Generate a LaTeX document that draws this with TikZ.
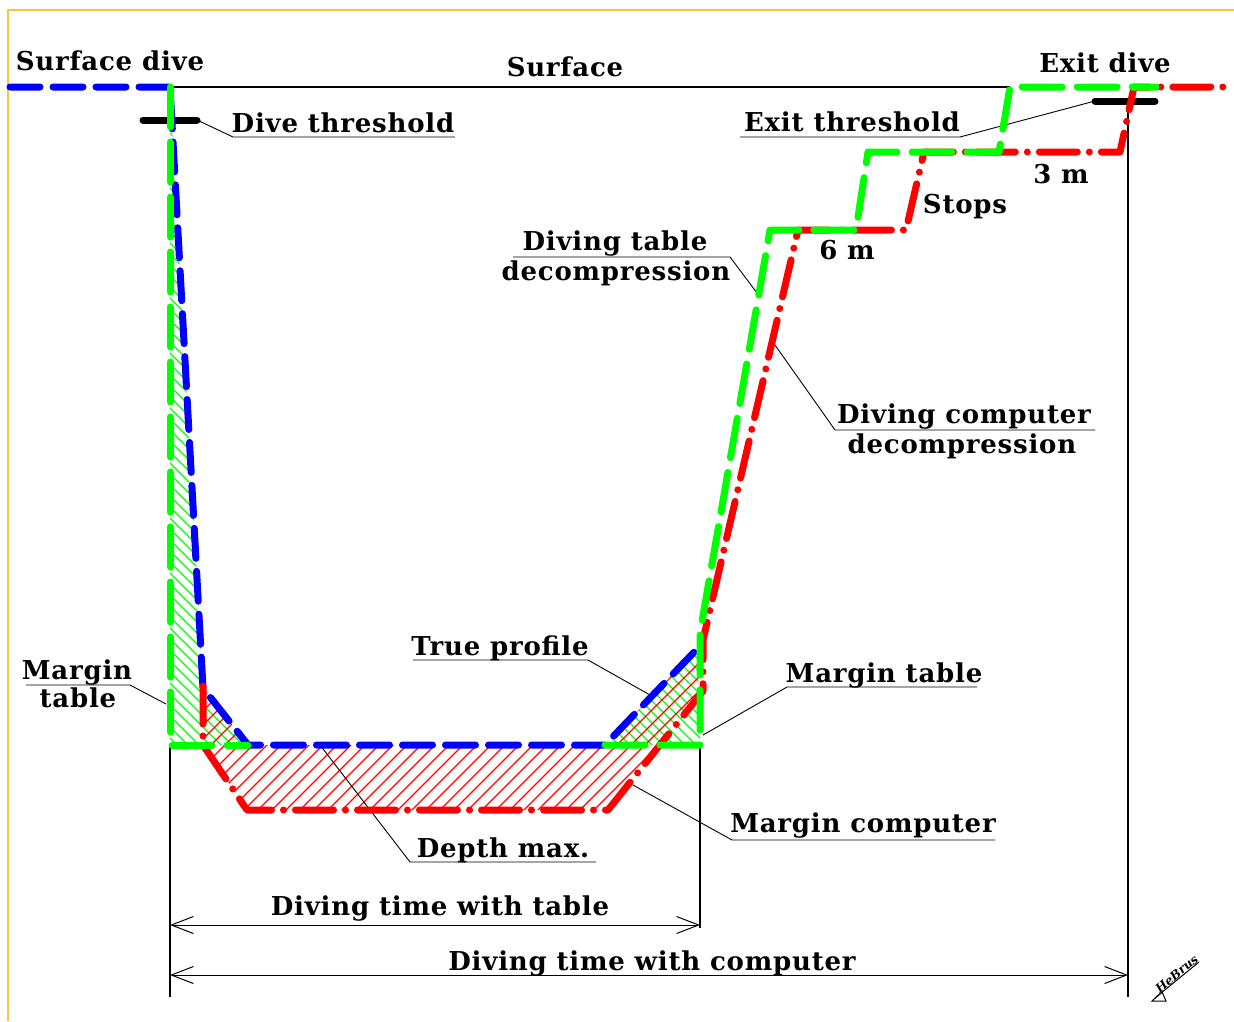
\documentclass[tikz,border=0pt]{standalone}
\usepackage{fontspec}
\newfontfamily\lblf{DejaVu Serif}[LetterSpace=3]
\newfontfamily\sigf{DejaVu Serif}
\usetikzlibrary{arrows.meta}
\definecolor{gr}{RGB}{0,255,0}
\definecolor{bl}{RGB}{0,0,255}
\definecolor{rd}{RGB}{255,0,0}
\definecolor{frame}{RGB}{248,196,64}
\tikzset{
  tbl/.style={draw=gr, line width=7pt, line cap=round, line join=round, dash pattern=on 40pt off 15pt},
  tru/.style={draw=bl, line width=7pt, line cap=round, line join=round, dash pattern=on 30pt off 13pt},
  cmp/.style={draw=rd, line width=7pt, line cap=round, line join=round, dash pattern=on 38pt off 12pt on 0pt off 12pt},
  barline/.style={draw=black, line width=7pt, line cap=round},
  thinline/.style={draw=black, line width=1.2pt},
  lead/.style={draw=black, line width=0.9pt},
  lbl/.style={font=\lblf\bfseries\fontsize{26}{30}\selectfont, inner sep=0pt, anchor=base},
  dimarr/.style={draw=black, line width=1pt, {Straight Barb[length=22pt,width=17pt]}-{Straight Barb[length=22pt,width=17pt]}},
}
\begin{document}
\begin{tikzpicture}[x=1pt,y=-1pt]
\useasboundingbox (0,0) rectangle (1234,1021);
% frame
\draw[frame, line width=1.5pt] (8,1021) -- (8,10) -- (1234,10);

% hatching
\begin{scope}
  \clip (170,87) -- (203,688) -- (248,745) -- (170,745) -- cycle;
  \foreach \q in {-180,-169,...,600} \draw[gr, line width=1.1pt] (0,\q) -- (900,\q+900);
\end{scope}
\begin{scope}
  \clip (605,745) -- (698,648) -- (700,745) -- cycle;
  \foreach \q in {-600,-589,...,200} \draw[gr, line width=1.1pt] (0,\q) -- (1000,\q+1000);
\end{scope}
\begin{scope}
  \clip (203,688) -- (248,745) -- (605,745) -- (698,648) -- (703,640) -- (703,691) -- (608,810) -- (247,810) -- (203,745) -- cycle;
  \foreach \q in {830,844,...,1530} \draw[rd, line width=1.1pt] (\q-1000,1000) -- (\q,0);
\end{scope}

% coordinates
\coordinate (s0) at (10,87);
\coordinate (s1) at (170,87);
\coordinate (s2) at (1010,87);
\coordinate (dbA) at (143,120);
\coordinate (dbB) at (197,120);
\coordinate (ebA) at (1095,101);
\coordinate (ebB) at (1155,101);
\coordinate (bt) at (170,745);
\coordinate (bm) at (700,745);
\coordinate (be) at (1128,101);

% thin lines
\draw[thinline] (s1) -- (s2);
\draw[thinline] (bt) -- (170,997);
\draw[thinline] (bm) -- (700,928);
\draw[thinline] (be) -- (1128,997);

% thresholds
\draw[barline] (dbA) -- (dbB);
\draw[barline] (ebA) -- (ebB);

% labels
\node[lbl] (sdive) at (110,70) {Surface dive};
\node[lbl] (surf) at (565,76) {Surface};
\node[lbl] (edive) at (1105,72) {Exit dive};
\node[lbl] (dthr) at (343,132) {Dive threshold};
\node[lbl] (ethr) at (852,131) {Exit threshold};
\node[lbl] (m3) at (1061,183) {3 m};
\node[lbl] (stops) at (965,213) {Stops};
\node[lbl] (m6) at (847,259) {6 m};
\node[lbl] (dt1) at (615,250) {Diving table};
\node[lbl] (dt2) at (616,280) {decompression};
\node[lbl] (dc1) at (964,423) {Diving computer};
\node[lbl] (dc2) at (962,453) {decompression};
\node[lbl] (tp) at (500,655) {True profile};
\node[lbl] (mtr) at (884,682) {Margin table};
\node[lbl] (mtl1) at (77,679) {Margin};
\node[lbl] (mtl2) at (78,707) {table};
\node[lbl] (mc) at (863,832) {Margin computer};
\node[lbl] (dm) at (503,857) {Depth max.};
\node[lbl] (tt) at (440,915) {Diving time with table};
\node[lbl] (tc) at (652,970) {Diving time with computer};

% leaders
\draw[lead] (dbB) -- (233,137) -- (455,137);
\draw[lead] (ebA) -- (960,137) -- (740,137);
\draw[lead] (513,257) -- (730,257) -- (757,293);
\draw[lead] (1095,430) -- (835,430) -- (775,345);
\draw[lead] (413,660) -- (588,660) -- (650,695);
\draw[lead] (977,687) -- (787,687) -- (703,735);
\draw[lead] (995,840) -- (732,840) -- (633,785);
\draw[lead] (596,862) -- (410,862) -- (320,745);
\draw[lead] (26,685) -- (130,685) -- (166,704);

% dimension arrows
\coordinate (ta) at (170,925);
\coordinate (tb) at (700,925);
\coordinate (ca) at (170,975);
\coordinate (cb) at (1128,975);
\draw[dimarr] (ta) -- (tb);
\draw[dimarr] (ca) -- (cb);

% profiles
\draw[tru] (s0) -- (s1) -- (203,688) -- (248,745) -- (605,745) -- (698,648);
\draw[cmp] (203,686) -- (203,745) -- (247,810) -- (608,810) -- (703,691) -- (703,640) -- (798,230) -- (906,230) -- (924,152) -- (1120,152) -- (1134,87) -- (1234,87);
\draw[tbl] (s1) -- (170,745) -- (248,745);
\draw[tbl] (605,745) -- (700,745) -- (700,633) -- (770,230) -- (856,230) -- (868,152) -- (999,152) -- (1010,87) -- (1156,87);

% signature
\node[font=\sigf\itshape\bfseries\fontsize{12}{13}\selectfont, rotate=40, inner sep=0pt, anchor=south west] (sig) at (1160,994) {HeBrus};
\draw[line width=1pt] (1155,998) -- (1199,962);
\draw[line width=1pt] (1152,1001) -- (1162,992) -- (1166,1001) -- cycle;
\end{tikzpicture}
\end{document}
